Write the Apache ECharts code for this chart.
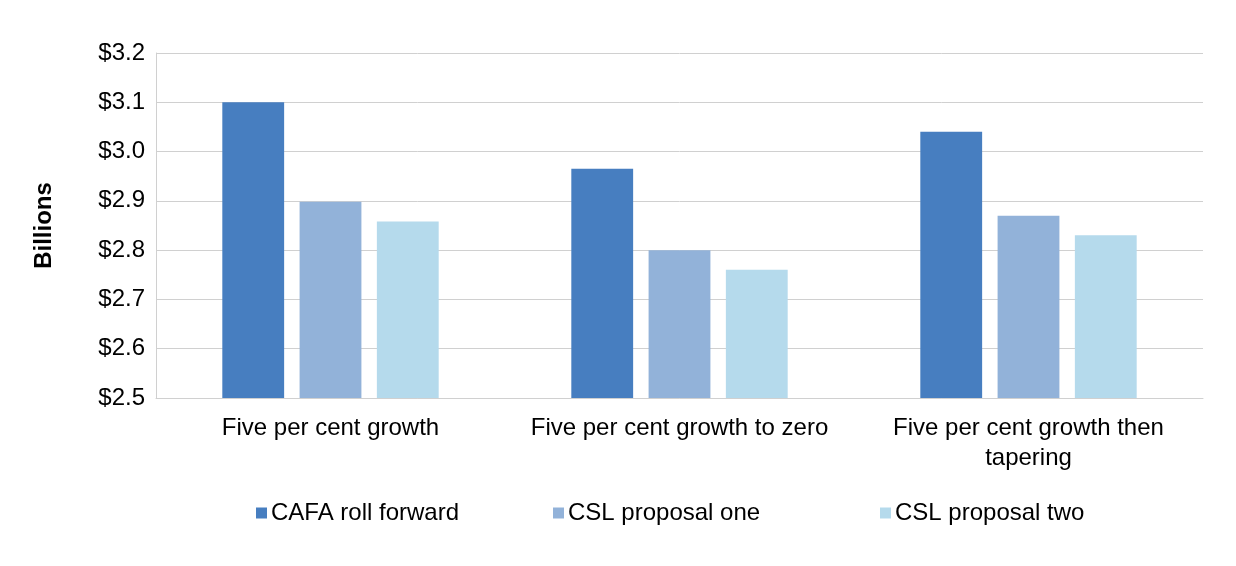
<!DOCTYPE html>
<html lang="en">
<head>
    <meta charset="UTF-8">
    <title>Chart</title>
    <script src="https://cdn.jsdelivr.net/npm/echarts@6/dist/echarts.min.js"></script>
    <style>
        html, body { margin: 0; padding: 0; background: #fff; }
        #main { width: 1236px; height: 566px; }
    </style>
</head>
<body>
<div id="main"></div>
<script>
    var categories = ['Five per cent growth', 'Five per cent growth to zero', 'Five per cent growth then\ntapering'];
    var seriesNames = ['CAFA roll forward', 'CSL proposal one', 'CSL proposal two'];
    var cafaRollForward = [3.10, 2.965, 3.04];
    var cslProposalOne = [2.898, 2.80, 2.87];
    var cslProposalTwo = [2.858, 2.76, 2.83];
    var colors = ['#477EC0', '#92B2D9', '#B5DAEC'];

    var font = 'Liberation Sans, Arial, sans-serif';
    var myChart = echarts.init(document.getElementById('main'));

    // one legend per entry so the spacing matches the original
    var legendLeft = [251, 548, 875];
    var legends = seriesNames.map(function (name, i) {
        return {
            data: [name],
            left: legendLeft[i],
            bottom: 36,
            icon: 'rect',
            itemWidth: 11,
            itemHeight: 11,
            itemGap: 0,
            textStyle: { fontFamily: font, fontSize: 24, color: '#000', padding: [0, 0, 0, -1] }
        };
    });

    var option = {
        animation: false,
        color: colors,
        grid: { left: 156, right: 33, top: 53, bottom: 168 },
        legend: legends,
        xAxis: {
            type: 'category',
            data: categories,
            axisTick: { show: false },
            axisLine: { lineStyle: { color: '#d0d0d0' } },
            axisLabel: { interval: 0, fontFamily: font, fontSize: 24, color: '#000', margin: 15, lineHeight: 30 }
        },
        yAxis: {
            type: 'value',
            min: 2.5,
            max: 3.2,
            interval: 0.1,
            name: 'Billions',
            nameLocation: 'middle',
            nameGap: 100,
            nameTextStyle: { fontFamily: font, fontSize: 24, fontWeight: 'bold', color: '#000' },
            axisLine: { show: true, lineStyle: { color: '#d0d0d0' } },
            splitLine: { lineStyle: { color: '#d0d0d0' } },
            axisLabel: {
                fontFamily: font, fontSize: 24, color: '#000', margin: 11,
                formatter: function (v) { return '$' + v.toFixed(1); }
            }
        },
        series: [
            { name: seriesNames[0], type: 'bar', data: cafaRollForward, barGap: '25%', barCategoryGap: '38%' },
            { name: seriesNames[1], type: 'bar', data: cslProposalOne, barGap: '25%', barCategoryGap: '38%' },
            { name: seriesNames[2], type: 'bar', data: cslProposalTwo, barGap: '25%', barCategoryGap: '38%' }
        ]
    };
    myChart.setOption(option);
</script>
</body>
</html>
